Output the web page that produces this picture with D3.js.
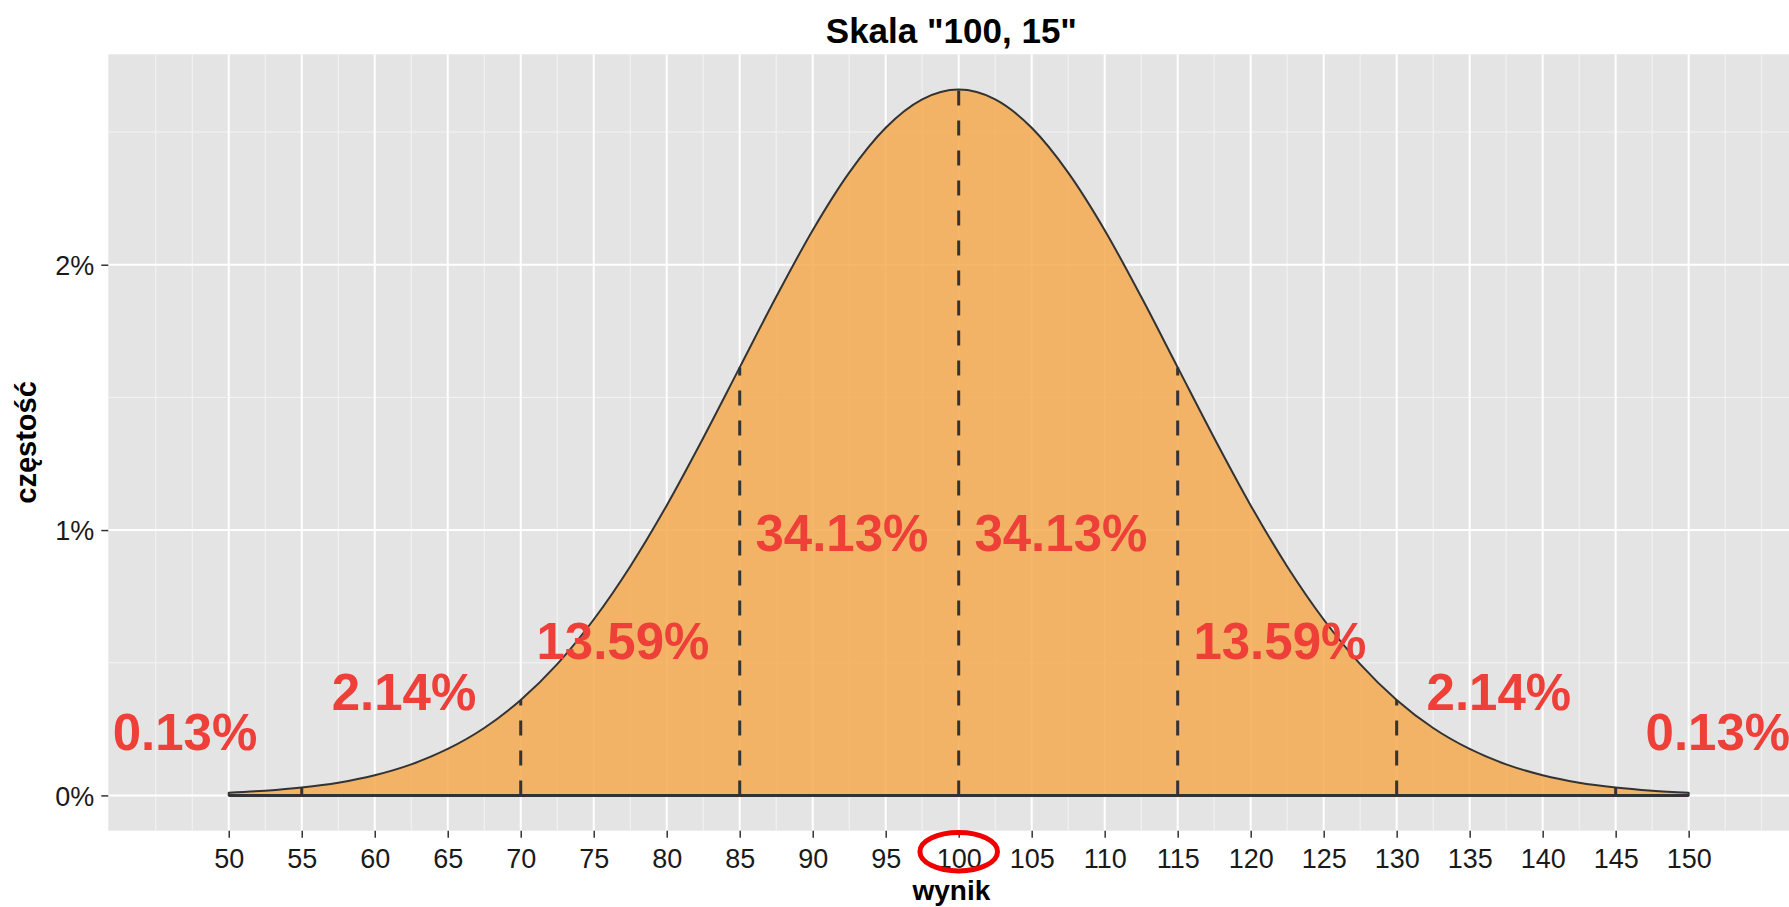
<!DOCTYPE html>
<html>
<head>
<meta charset="utf-8">
<script src="https://cdn.jsdelivr.net/npm/d3@7"></script>
<style>
  html, body { margin: 0; padding: 0; background: #fff; }
  svg { display: block; font-family: 'Liberation Sans', Arial, sans-serif; }
</style>
</head>
<body>
<svg id="chart"></svg>
<script>
// curve (wynik, częstość as fraction)
const curveX = [50, 52.5, 55, 57.5, 60, 62.5, 65, 67.5, 70, 72.5, 75, 77.5, 80, 82.5, 85, 87.5, 90, 92.5, 95, 97.5,
  100, 102.5, 105, 107.5, 110, 112.5, 115, 117.5, 120, 122.5, 125, 127.5, 130, 132.5, 135, 137.5, 140, 142.5, 145, 147.5, 150];
const curvePct = [0.010, 0.018, 0.030, 0.048, 0.076, 0.117, 0.175, 0.254, 0.360, 0.495, 0.663, 0.863, 1.093, 1.347, 1.613, 1.879, 2.130, 2.347, 2.516, 2.623,
  2.660, 2.623, 2.516, 2.347, 2.130, 1.879, 1.613, 1.347, 1.093, 0.863, 0.663, 0.495, 0.360, 0.254, 0.175, 0.117, 0.076, 0.048, 0.030, 0.018, 0.010];

const sigmaLines = [55, 70, 85, 100, 115, 130, 145];

const shareLabels = ['0.13%', '2.14%', '13.59%', '34.13%', '34.13%', '13.59%', '2.14%', '0.13%'];
const shareX = [47, 62, 77, 92, 107, 122, 137, 152];
const shareY = [0.0024, 0.0039, 0.00585, 0.0099, 0.0099, 0.00585, 0.0039, 0.0024];

const xTicks = [50, 55, 60, 65, 70, 75, 80, 85, 90, 95, 100, 105, 110, 115, 120, 125, 130, 135, 140, 145, 150];
const xMinor = [45, 47.5, 52.5, 57.5, 62.5, 67.5, 72.5, 77.5, 82.5, 87.5, 92.5, 97.5, 102.5, 107.5, 112.5,
  117.5, 122.5, 127.5, 132.5, 137.5, 142.5, 147.5, 152.5, 155];
const yTicks = [0, 0.01, 0.02];
const yMinor = [0.005, 0.015, 0.025];

const config = {
  width: 1789,
  height: 907,
  panel: { left: 108.3, right: 1794.5, top: 54.3, bottom: 830.7 },
  panelFill: '#E4E4E4',
  areaFill: '#F4AA50',
  areaOpacity: 0.85,
  ink: '#333333',
  red: '#EE3F38'
};

createChart('chart', config);

function createChart(id, config) {
  config.data = curveX.map((x, i) => ({ x: x, y: curvePct[i] / 100 }));
  config.svg = d3.select(`#${id}`).attr('width', config.width).attr('height', config.height);
  setScales(config);
  drawPanel(config);
  drawArea(config);
  drawSigmaLines(config);
  drawShareLabels(config);
  drawAxes(config);
  drawTitles(config);
  drawHighlight(config);
}

function setScales(config) {
  const p = config.panel;
  config.x = d3.scaleLinear().domain([41.75, 157.25]).range([p.left, p.right]);
  config.y = d3.scaleLinear().domain([-0.00133, 0.02793]).range([p.bottom, p.top]);
}

function drawPanel(config) {
  const p = config.panel;
  const g = config.svg.append('g').attr('class', 'panel');
  g.append('rect')
    .attr('x', p.left)
    .attr('y', p.top)
    .attr('width', p.right - p.left)
    .attr('height', p.bottom - p.top)
    .attr('fill', config.panelFill);

  g.selectAll('.minor-x')
    .data(xMinor)
    .enter()
    .append('line')
    .attr('x1', d => config.x(d)).attr('x2', d => config.x(d))
    .attr('y1', p.top).attr('y2', p.bottom)
    .attr('stroke', '#F4F4F4').attr('stroke-width', 1);
  g.selectAll('.minor-y')
    .data(yMinor)
    .enter()
    .append('line')
    .attr('x1', p.left).attr('x2', p.right)
    .attr('y1', d => config.y(d)).attr('y2', d => config.y(d))
    .attr('stroke', '#F4F4F4').attr('stroke-width', 1);
  g.selectAll('.major-x')
    .data(xTicks)
    .enter()
    .append('line')
    .attr('x1', d => config.x(d)).attr('x2', d => config.x(d))
    .attr('y1', p.top).attr('y2', p.bottom)
    .attr('stroke', '#FFFFFF').attr('stroke-width', 2);
  g.selectAll('.major-y')
    .data(yTicks)
    .enter()
    .append('line')
    .attr('x1', p.left).attr('x2', p.right)
    .attr('y1', d => config.y(d)).attr('y2', d => config.y(d))
    .attr('stroke', '#FFFFFF').attr('stroke-width', 2);
}

function drawArea(config) {
  const area = d3.area()
    .x(d => config.x(d.x))
    .y0(config.y(0))
    .y1(d => config.y(d.y))
    .curve(d3.curveMonotoneX);
  config.svg.append('path')
    .datum(config.data)
    .attr('d', area)
    .attr('fill', config.areaFill)
    .attr('fill-opacity', config.areaOpacity)
    .attr('stroke', config.ink)
    .attr('stroke-width', 2)
    .attr('stroke-linejoin', 'round');
}

function drawSigmaLines(config) {
  const byX = new Map(config.data.map(d => [d.x, d.y]));
  config.svg.selectAll('.sigma')
    .data(sigmaLines)
    .enter()
    .append('line')
    .attr('class', 'sigma')
    .attr('x1', d => config.x(d)).attr('x2', d => config.x(d))
    .attr('y1', config.y(0))
    .attr('y2', d => config.y(byX.get(d)))
    .attr('stroke', config.ink)
    .attr('stroke-width', 3)
    .attr('stroke-dasharray', '15,15');
  // baseline under the curve
  config.svg.append('line')
    .attr('x1', config.x(curveX[0])).attr('x2', config.x(curveX[curveX.length - 1]))
    .attr('y1', config.y(0)).attr('y2', config.y(0))
    .attr('stroke', config.ink).attr('stroke-width', 3);
}

function drawShareLabels(config) {
  config.svg.selectAll('.share')
    .data(shareLabels)
    .enter()
    .append('text')
    .attr('class', 'share')
    .attr('x', (d, i) => config.x(shareX[i]))
    .attr('y', (d, i) => config.y(shareY[i]))
    .attr('dy', '0.36em')
    .attr('text-anchor', 'middle')
    .attr('font-size', 51)
    .attr('font-weight', 'bold')
    .attr('fill', config.red)
    .text(d => d);
}

function drawAxes(config) {
  const p = config.panel;
  const xAxis = config.svg.append('g')
    .attr('transform', `translate(0, ${p.bottom})`)
    .call(d3.axisBottom(config.x).tickValues(xTicks).tickSize(7).tickPadding(11).tickFormat(d3.format('d')));
  const yAxis = config.svg.append('g')
    .attr('transform', `translate(${p.left}, 0)`)
    .call(d3.axisLeft(config.y).tickValues(yTicks).tickSize(7).tickPadding(7).tickFormat(d3.format('.0%')));

  [xAxis, yAxis].forEach(ax => {
    ax.select('.domain').remove();
    ax.selectAll('.tick line').attr('stroke', '#333').attr('stroke-width', 1.5);
    ax.selectAll('.tick text')
      .attr('fill', '#1a1a1a')
      .attr('font-size', 27)
      .attr('font-family', "'Liberation Sans', Arial, sans-serif");
  });
  yAxis.selectAll('.tick text').attr('dy', '0.36em');
}

function drawTitles(config) {
  const p = config.panel;
  const cx = (p.left + p.right) / 2;
  config.svg.append('text')
    .attr('x', cx).attr('y', 43)
    .attr('text-anchor', 'middle')
    .attr('font-size', 35)
    .attr('font-weight', 'bold')
    .attr('fill', '#000')
    .text('Skala "100, 15"');
  config.svg.append('text')
    .attr('x', cx).attr('y', 900)
    .attr('text-anchor', 'middle')
    .attr('font-size', 28)
    .attr('font-weight', 'bold')
    .attr('fill', '#000')
    .text('wynik');
  config.svg.append('text')
    .attr('transform', `translate(36.4, ${(p.top + p.bottom) / 2}) rotate(-90)`)
    .attr('text-anchor', 'middle')
    .attr('font-size', 29)
    .attr('font-weight', 'bold')
    .attr('fill', '#000')
    .text('częstość');
}

function drawHighlight(config) {
  config.svg.append('ellipse')
    .attr('cx', config.x(100))
    .attr('cy', 851.7)
    .attr('rx', 38.8)
    .attr('ry', 19.3)
    .attr('fill', 'none')
    .attr('stroke', '#F00000')
    .attr('stroke-width', 5);
}
</script>
</body>
</html>
